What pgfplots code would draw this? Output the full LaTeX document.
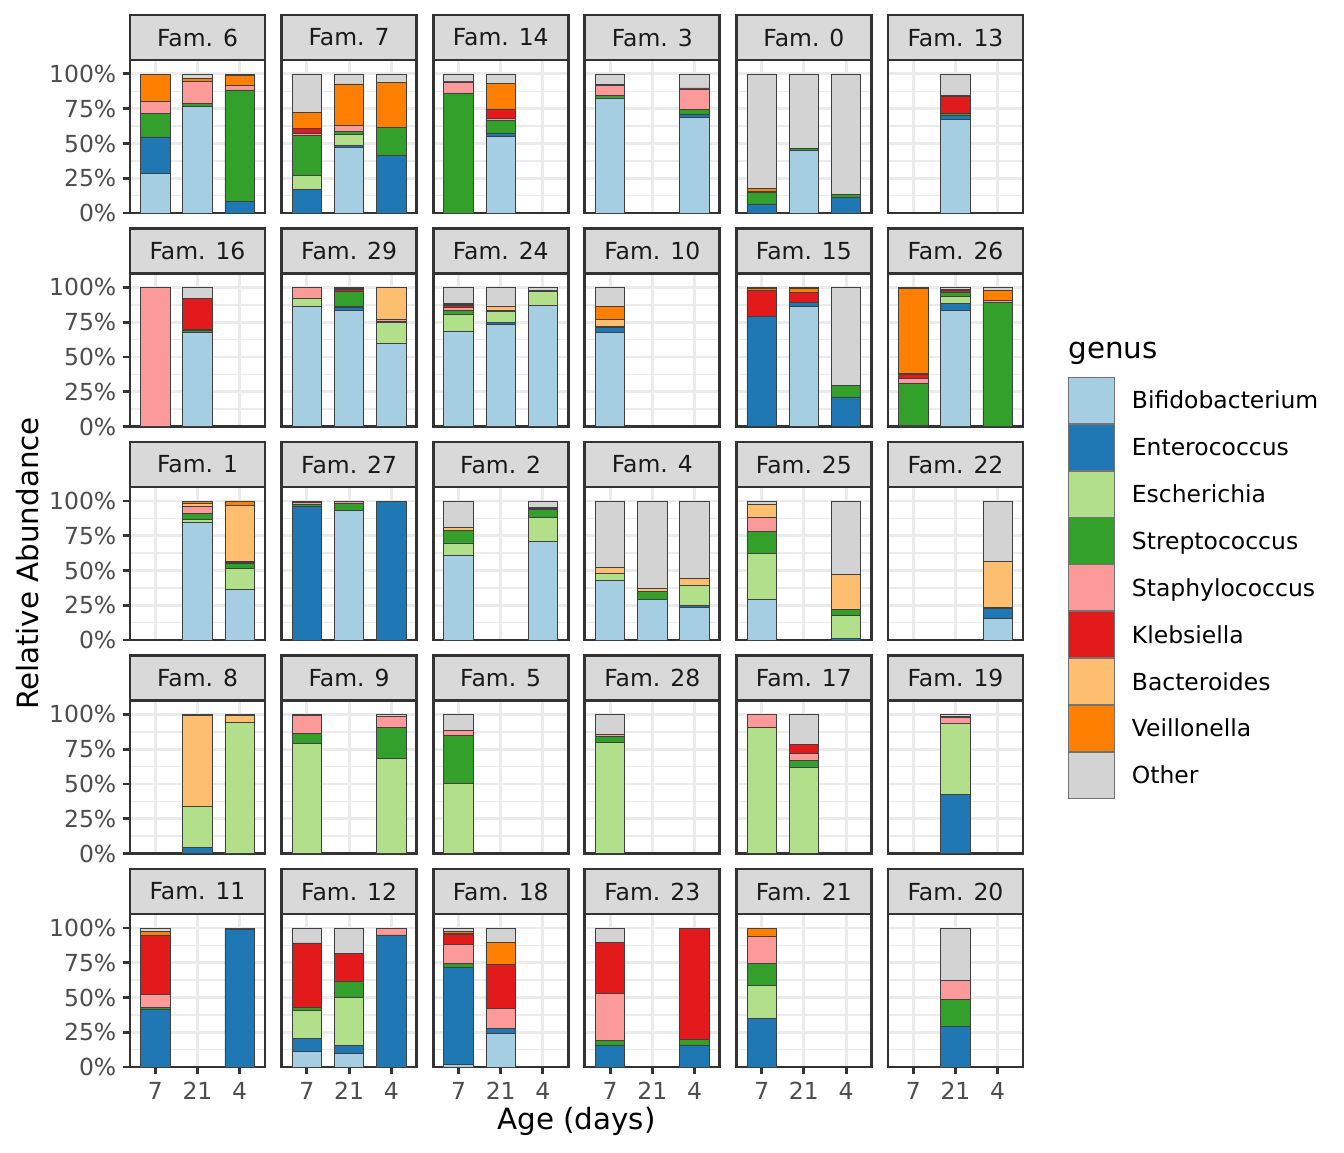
\documentclass[border=0pt]{standalone}
\usepackage{fontspec}
\setmainfont{DejaVu Sans}
\usepackage{pgfplots}
\usepackage{pgfplotstable}
\pgfplotsset{compat=1.18}
\usepgfplotslibrary{groupplots}
\usetikzlibrary{calc}
\definecolor{cBif}{HTML}{A6CEE3}
\definecolor{cEnt}{HTML}{1F78B4}
\definecolor{cEsc}{HTML}{B2DF8A}
\definecolor{cStr}{HTML}{33A02C}
\definecolor{cSta}{HTML}{FB9A99}
\definecolor{cKle}{HTML}{E31A1C}
\definecolor{cBac}{HTML}{FDBF6F}
\definecolor{cVei}{HTML}{FF7F00}
\definecolor{cOth}{HTML}{D3D3D3}
\definecolor{gray10}{HTML}{1A1A1A}
\definecolor{gray20}{HTML}{333333}
\definecolor{gray30}{HTML}{4D4D4D}
\definecolor{gray85}{HTML}{D9D9D9}
\definecolor{gray92}{HTML}{EBEBEB}
\tikzset{barsty/.style={draw=black!75, line width=0.3pt}}

% columns: x (1=day 7, 2=day 21, 3=day 4), then genus shares
\pgfplotstableread{
x bif ent esc str sta kle bac vei oth
1 .283 .264 0 .168 .085 0 0 .195 .005
2 .765 0 0 .024 .158 0 0 .019 .034
3 0 .086 0 .799 .033 0 0 .072 .010
}\fsix
\pgfplotstableread{
x bif ent esc str sta kle bac vei oth
1 0 .168 .103 .288 .014 .038 0 .111 .278
2 .472 .015 .081 .017 .046 0 0 .297 .072
3 0 .415 0 .201 0 0 0 .324 .060
}\fseven
\pgfplotstableread{
x bif ent esc str sta kle bac vei oth
1 0 0 0 .863 .079 .005 0 0 .053
2 .552 .019 0 .096 .012 .069 0 .185 .067
}\ffourteen
\pgfplotstableread{
x bif ent esc str sta kle bac vei oth
1 .827 0 0 .017 .072 .009 0 0 .075
3 .688 .024 0 .031 .149 .007 0 0 .101
}\fthree
\pgfplotstableread{
x bif ent esc str sta kle bac vei oth
1 0 .065 0 .084 0 .008 0 .023 .820
2 .448 0 0 .015 0 0 0 0 .537
3 0 .115 0 .017 0 0 0 0 .868
}\fzero
\pgfplotstableread{
x bif ent esc str sta kle bac vei oth
2 .674 .029 0 .012 0 .120 0 .007 .158
}\fthirteen
\pgfplotstableread{
x bif ent esc str sta kle bac vei oth
1 0 0 0 0 1 0 0 0 0
2 .675 0 0 .016 .008 .224 0 0 .077
}\fsixteen
\pgfplotstableread{
x bif ent esc str sta kle bac vei oth
1 .861 0 .058 0 .079 .002 0 0 0
2 .837 .019 .010 .103 0 .014 0 .012 .005
3 .600 0 .149 .007 .017 0 .225 0 .002
}\ftwentynine
\pgfplotstableread{
x bif ent esc str sta kle bac vei oth
1 .682 0 .127 .028 .019 .012 .007 .013 .112
2 .732 .017 .076 .008 0 0 .033 0 .134
3 .871 0 .098 .009 0 0 0 0 .022
}\ftwentyfour
\pgfplotstableread{
x bif ent esc str sta kle bac vei oth
1 .675 .036 0 .007 0 0 .050 .093 .139
}\ften
\pgfplotstableread{
x bif ent esc str sta kle bac vei oth
1 0 .792 0 0 0 .184 0 .017 .007
2 .861 .034 0 0 0 .067 0 .031 .007
3 0 .211 0 .086 0 0 0 0 .703
}\ffifteen
\pgfplotstableread{
x bif ent esc str sta kle bac vei oth
1 0 .005 0 .304 .035 .029 .010 .610 .007
2 .837 .051 .045 .034 0 .009 0 .012 .012
3 0 0 0 .895 .014 0 0 .067 .024
}\ftwentysix
\pgfplotstableread{
x bif ent esc str sta kle bac vei oth
2 .847 0 .019 .043 .053 0 .021 .012 .005
3 .362 0 .151 .039 .007 .007 .403 .031 0
}\fone
\pgfplotstableread{
x bif ent esc str sta kle bac vei oth
1 0 .962 0 .014 .014 .005 0 0 .005
2 .935 0 0 .046 .014 0 0 0 .005
3 0 .995 0 0 0 0 0 0 .005
}\ftwentyseven
\pgfplotstableread{
x bif ent esc str sta kle bac vei oth
1 .609 0 .089 .091 0 0 .019 0 .192
3 .710 0 .172 .056 0 .007 0 .007 .048
}\ftwo
\pgfplotstableread{
x bif ent esc str sta kle bac vei oth
1 .429 0 .051 0 0 0 .043 0 .477
2 .293 0 0 .055 0 0 .021 0 .631
3 .233 .014 .149 0 0 0 .048 0 .556
}\ffour
\pgfplotstableread{
x bif ent esc str sta kle bac vei oth
1 .293 0 .328 .158 .103 0 .094 0 .024
3 0 .012 .163 .046 0 0 .249 0 .530
}\ftwentyfive
\pgfplotstableread{
x bif ent esc str sta kle bac vei oth
3 .156 .074 0 .007 0 0 .329 0 .434
}\ftwentytwo
\pgfplotstableread{
x bif ent esc str sta kle bac vei oth
2 0 .043 .295 0 0 0 .655 0 .007
3 0 0 .940 0 0 0 .055 0 .005
}\feight
\pgfplotstableread{
x bif ent esc str sta kle bac vei oth
1 0 0 .789 .074 .132 .005 0 0 0
3 0 0 .683 .223 .080 0 0 0 .014
}\fnine
\pgfplotstableread{
x bif ent esc str sta kle bac vei oth
1 0 0 .501 .348 .036 0 0 0 .115
}\ffive
\pgfplotstableread{
x bif ent esc str sta kle bac vei oth
1 0 0 .799 .045 .010 0 0 0 .146
}\ftwentyeight
\pgfplotstableread{
x bif ent esc str sta kle bac vei oth
1 0 0 .906 0 .094 0 0 0 0
2 0 0 .619 .050 .050 .068 0 0 .213
}\fseventeen
\pgfplotstableread{
x bif ent esc str sta kle bac vei oth
2 0 .424 .511 0 .043 .008 0 0 .014
}\fnineteen
\pgfplotstableread{
x bif ent esc str sta kle bac vei oth
1 0 .412 0 .015 .096 .427 0 .026 .024
3 0 .993 0 0 0 0 0 0 .007
}\feleven
\pgfplotstableread{
x bif ent esc str sta kle bac vei oth
1 .113 .093 .202 .019 0 .465 0 0 .108
2 .096 .060 .343 .117 0 .202 0 0 .182
3 0 .950 0 0 .045 0 0 0 .005
}\ftwelve
\pgfplotstableread{
x bif ent esc str sta kle bac vei oth
1 .017 .700 0 .026 .139 .075 .005 .012 .026
2 .240 .038 0 0 .142 .316 0 .158 .106
}\feighteen
\pgfplotstableread{
x bif ent esc str sta kle bac vei oth
1 0 .156 0 .036 .338 .367 0 0 .103
3 0 .153 0 .044 0 .798 0 0 .005
}\ftwentythree
\pgfplotstableread{
x bif ent esc str sta kle bac vei oth
1 0 .348 .240 .158 .194 0 0 .060 0
}\ftwentyone
\pgfplotstableread{
x bif ent esc str sta kle bac vei oth
2 0 .293 0 .194 .137 0 0 0 .376
}\ftwenty

\newcommand\bars[1]{%
\addplot[barsty,fill=cBif] table[x=x,y=bif]{#1};
\addplot[barsty,fill=cEnt] table[x=x,y=ent]{#1};
\addplot[barsty,fill=cEsc] table[x=x,y=esc]{#1};
\addplot[barsty,fill=cStr] table[x=x,y=str]{#1};
\addplot[barsty,fill=cSta] table[x=x,y=sta]{#1};
\addplot[barsty,fill=cKle] table[x=x,y=kle]{#1};
\addplot[barsty,fill=cBac] table[x=x,y=bac]{#1};
\addplot[barsty,fill=cVei] table[x=x,y=vei]{#1};
\addplot[barsty,fill=cOth] table[x=x,y=oth]{#1};
}

\begin{document}
\begin{tikzpicture}
\begin{groupplot}[
  group style={group size=6 by 5, horizontal sep=6.225pt, vertical sep=22.69pt,
    xticklabels at=edge bottom, yticklabels at=edge left},
  width=50.625pt, height=57.375pt, scale only axis,
  xmin=0.4, xmax=3.6, ymin=0, ymax=1.1,
  ybar stacked, /pgf/bar width=0.7,
  xtick={1,2,3}, xticklabels={7,21,4},
  ytick={0,0.25,0.5,0.75,1}, yticklabels={0\%,25\%,50\%,75\%,100\%},
  minor ytick={0.125,0.375,0.625,0.875},
  xmajorgrids, ymajorgrids, yminorgrids,
  major grid style={draw=gray92, line width=1.07pt},
  minor grid style={draw=gray92, line width=0.53pt},
  axis line style={draw=gray20, line width=1.07pt},
  tick pos=left, tick align=outside, major tick length=2.75pt, minor tick length=0pt,
  tick style={draw=gray20, line width=1.07pt},
  xmajorticks=false, ymajorticks=false,
  /pgf/number format/assume math mode=true,
  ticklabel style={font=\fontsize{8.8}{10}\selectfont, text=gray30},
  yticklabel style={anchor=east, inner sep=0pt, xshift=-2.2pt},
  xticklabel style={anchor=north, inner sep=0pt, yshift=-2.7pt},
  every axis title shift=0pt,
  title style={at={(0.5,1)}, anchor=south, yshift=0pt, fill=gray85, draw=gray20,
    line width=1.07pt, minimum width=50.625pt, minimum height=16.875pt,
    inner sep=0pt, outer sep=0pt, font=\fontsize{8.8}{10}\selectfont, text=gray10},
]
% row 1
\nextgroupplot[title={Fam. 6}, ymajorticks=true]\bars{\fsix}
\nextgroupplot[title={Fam. 7}]\bars{\fseven}
\nextgroupplot[title={Fam. 14}]\bars{\ffourteen}
\nextgroupplot[title={Fam. 3}]\bars{\fthree}
\nextgroupplot[title={Fam. 0}]\bars{\fzero}
\nextgroupplot[title={Fam. 13}]\bars{\fthirteen}
% row 2
\nextgroupplot[title={Fam. 16}, ymajorticks=true]\bars{\fsixteen}
\nextgroupplot[title={Fam. 29}]\bars{\ftwentynine}
\nextgroupplot[title={Fam. 24}]\bars{\ftwentyfour}
\nextgroupplot[title={Fam. 10}]\bars{\ften}
\nextgroupplot[title={Fam. 15}]\bars{\ffifteen}
\nextgroupplot[title={Fam. 26},
  legend entries={Bifidobacterium,Enterococcus,Escherichia,Streptococcus,Staphylococcus,Klebsiella,Bacteroides,Veillonella,Other},
  legend cell align=left,
  legend image code/.code={\draw[#1, draw=black!55, line width=0.3pt] (0pt,-8.64pt) rectangle (17.28pt,8.64pt);},
  legend style={at={(1.333,0.325)}, anchor=north west, draw=none, fill=none,
    inner sep=0pt, outer sep=0pt, row sep=0pt, font=\fontsize{8.8}{10}\selectfont,
    nodes={inner sep=0pt, text=black, text height=6.4pt, text depth=0pt},
    /tikz/every odd column/.append style={column sep=6.4pt}}]\bars{\ftwentysix}
% row 3
\nextgroupplot[title={Fam. 1}, ymajorticks=true]\bars{\fone}
\nextgroupplot[title={Fam. 27}]\bars{\ftwentyseven}
\nextgroupplot[title={Fam. 2}]\bars{\ftwo}
\nextgroupplot[title={Fam. 4}]\bars{\ffour}
\nextgroupplot[title={Fam. 25}]\bars{\ftwentyfive}
\nextgroupplot[title={Fam. 22}]\bars{\ftwentytwo}
% row 4
\nextgroupplot[title={Fam. 8}, ymajorticks=true]\bars{\feight}
\nextgroupplot[title={Fam. 9}]\bars{\fnine}
\nextgroupplot[title={Fam. 5}]\bars{\ffive}
\nextgroupplot[title={Fam. 28}]\bars{\ftwentyeight}
\nextgroupplot[title={Fam. 17}]\bars{\fseventeen}
\nextgroupplot[title={Fam. 19}]\bars{\fnineteen}
% row 5
\nextgroupplot[title={Fam. 11}, ymajorticks=true, xmajorticks=true]\bars{\feleven}
\nextgroupplot[title={Fam. 12}, xmajorticks=true]\bars{\ftwelve}
\nextgroupplot[title={Fam. 18}, xmajorticks=true]\bars{\feighteen}
\nextgroupplot[title={Fam. 23}, xmajorticks=true]\bars{\ftwentythree}
\nextgroupplot[title={Fam. 21}, xmajorticks=true]\bars{\ftwentyone}
\nextgroupplot[title={Fam. 20}, xmajorticks=true]\bars{\ftwenty}
\end{groupplot}
\node[rotate=90, anchor=base, font=\fontsize{11}{13}\selectfont]
  at ($($(group c1r1.north west)!0.5!(group c1r5.south west)$)+(-34.3pt,0)$) {Relative Abundance};
\node[anchor=base, font=\fontsize{11}{13}\selectfont]
  at ($($(group c1r5.south west)!0.5!(group c6r5.south east)$)+(0,-23.6pt)$) {Age (days)};
\node[anchor=base west, font=\fontsize{11}{13}\selectfont, inner sep=0pt]
  at ([shift={(16.9pt,25.5pt)}]group c6r2.south east) {genus};
\path ([shift={(-48.75pt,22.5pt)}]group c1r1.north west) rectangle ([shift={(120.375pt,-31.875pt)}]group c6r5.south east);
\end{tikzpicture}
\end{document}
